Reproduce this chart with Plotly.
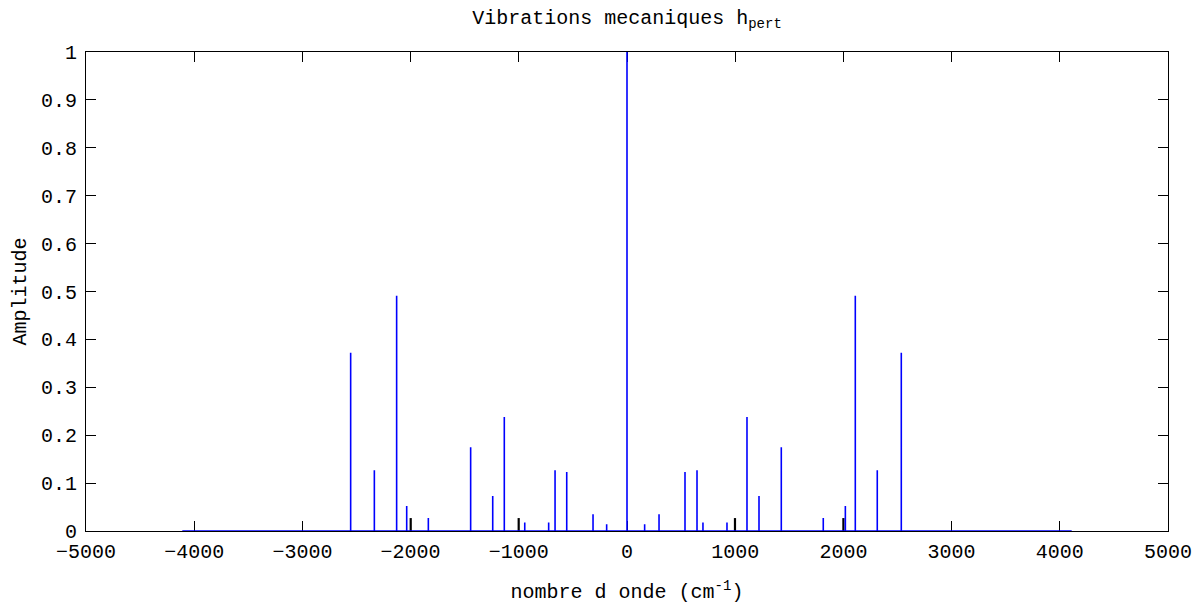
import plotly.graph_objects as go

# Spectrum peaks (wavenumber in cm^-1, amplitude)
peak_x = [-2554, -2335, -2129, -2036, -1836, -1445, -1241, -1134, -945, -724,
          -665, -557, -314, -188, 0, 163, 296, 536, 647, 702,
          924, 1109, 1220, 1426, 1814, 2018, 2110, 2313, 2535]
peak_amp = [0.372, 0.127, 0.491, 0.052, 0.027, 0.175, 0.073, 0.238, 0.018, 0.018,
            0.127, 0.123, 0.035, 0.014, 1.0, 0.014, 0.035, 0.123, 0.127, 0.018,
            0.018, 0.238, 0.073, 0.175, 0.027, 0.052, 0.491, 0.127, 0.372]

# Secondary (black) spectrum components
black_x = [-1999, -1001, 998, 2000]
black_amp = [0.027, 0.027, 0.027, 0.027]

# Frequency span of the computed spectrum
freq_range = [-4110, 4110]

x_ticks = [-5000, -4000, -3000, -2000, -1000, 0, 1000, 2000, 3000, 4000, 5000]
y_ticks = [0, 0.1, 0.2, 0.3, 0.4, 0.5, 0.6, 0.7, 0.8, 0.9, 1]
y_tick_text = ["0", "0.1", "0.2", "0.3", "0.4", "0.5", "0.6", "0.7", "0.8", "0.9", "1"]


def stems(xs, ys, start=None, end=None):
    lx, ly = [], []
    if start is not None:
        lx.append(start); ly.append(0)
    for xv, yv in sorted(zip(xs, ys)):
        if start is None:
            lx += [xv, xv, None]; ly += [0, yv, None]
        else:
            lx += [xv, xv, xv]; ly += [0, yv, 0]
    if end is not None:
        lx.append(end); ly.append(0)
    return lx, ly


bx, by = stems(black_x, black_amp)
sx, sy = stems(peak_x, peak_amp, freq_range[0], freq_range[1])

fig = go.Figure()
fig.add_trace(go.Scatter(x=bx, y=by, mode="lines",
                         line=dict(color="black", width=2.2), hoverinfo="skip"))
fig.add_trace(go.Scatter(x=sx, y=sy, mode="lines",
                         line=dict(color="#0000ff", width=1.6)))

font = dict(family="Liberation Mono", size=20, color="black")

fig.update_layout(
    width=1198, height=604,
    margin=dict(l=86, r=30, t=52, b=73),
    paper_bgcolor="white", plot_bgcolor="white",
    showlegend=False,
    font=font,
    title=dict(text="Vibrations mecaniques h<sub>pert</sub>",
               x=0.5, xanchor="center", xref="paper",
               y=1 - 10 / 604, yanchor="top", yref="container",
               font=font),
)
fig.update_xaxes(
    range=[-5000, 5000], tickvals=x_ticks,
    ticks="inside", ticklen=10, tickwidth=1, tickcolor="black",
    showline=True, linecolor="black", linewidth=1, mirror="allticks",
    showgrid=False, zeroline=False, layer="below traces",
    title=dict(text="nombre d onde (cm<sup>-1</sup>)", standoff=22, font=font),
    tickfont=font, ticklabelstandoff=2, automargin=False,
)
fig.update_yaxes(
    range=[0, 1], tickvals=y_ticks, ticktext=y_tick_text,
    ticks="inside", ticklen=10, tickwidth=1, tickcolor="black",
    showline=True, linecolor="black", linewidth=1, mirror="allticks",
    showgrid=False, zeroline=False, layer="below traces",
    title=dict(text="Amplitude", standoff=8, font=font),
    tickfont=font, ticklabelstandoff=4, automargin=False,
)

fig.write_html("out.html")
